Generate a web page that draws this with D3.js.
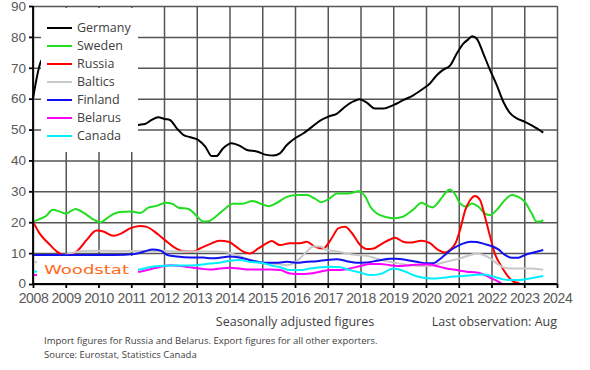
<!DOCTYPE html>
<html>
<head>
<meta charset="utf-8">
<script src="https://cdn.jsdelivr.net/npm/d3@7"></script>
<style>
    body { margin: 0; background: #fff; }
    svg { display: block; font-family: "Open Sans", sans-serif; }
    .grid line { stroke: #555; stroke-width: 1.5px; }
    .grid path { display: none; }
    .axis path, .axis line { stroke: #000; stroke-width: 1.8px; }
    .axis text { fill: #595959; }
    .line { fill: none; stroke-width: 2px; stroke-linejoin: round; }
</style>
</head>
<body>
<svg id="chart" width="590" height="370"></svg>
<script>
// Imports/exports of sawn softwood, by source, seasonally adjusted
var years = [2008, 2009, 2010, 2011, 2012, 2013, 2014, 2015, 2016, 2017, 2018, 2019, 2020, 2021, 2022, 2023, 2024];
var yTicks = [0, 10, 20, 30, 40, 50, 60, 70, 80, 90];
var names = ["Germany", "Sweden", "Russia", "Baltics", "Finland", "Belarus", "Canada"];
var colors = ["#000000", "#22dd22", "#ff0000", "#c8c8c8", "#1010f0", "#ff00ff", "#00f0ff"];

var germany = [[2008, 60], [2008.24, 72], [2008.5, 75], [2008.8, 70], [2009.1, 55], [2009.5, 46], [2010, 48], [2010.5, 50], [2011, 51],
    [2011.22, 51.5], [2011.42, 51.8], [2011.62, 53.1], [2011.82, 54], [2012.03, 53.4], [2012.18, 53.1], [2012.39, 50.4], [2012.59, 48.3],
    [2012.8, 47.5], [2013.05, 46.6], [2013.26, 44.5], [2013.46, 41.4], [2013.6, 41.4], [2013.8, 43.9], [2014.06, 45.6], [2014.32, 44.7],
    [2014.53, 43.4], [2014.83, 42.9], [2015.13, 41.8], [2015.34, 41.6], [2015.54, 42.3], [2015.75, 45], [2016, 47.2], [2016.26, 48.8],
    [2016.51, 50.8], [2016.77, 52.9], [2017.02, 54.2], [2017.27, 55.1], [2017.52, 57.3], [2017.78, 59.1], [2017.97, 59.8], [2018.19, 58.7],
    [2018.44, 56.8], [2018.69, 56.8], [2019, 57.9], [2019.3, 59.5], [2019.61, 61.1], [2019.92, 63.3], [2020.12, 64.9], [2020.33, 67.6],
    [2020.53, 69.4], [2020.74, 70.8], [2020.94, 74.6], [2021.14, 77.8], [2021.29, 79.2], [2021.41, 80.2], [2021.55, 79.4], [2021.75, 74.6],
    [2021.95, 69.4], [2022.16, 64.4], [2022.36, 59], [2022.56, 55.4], [2022.77, 53.6], [2023.02, 52.5], [2023.27, 51.1], [2023.58, 49]];

var sweden = [[2008, 20.2], [2008.2, 21], [2008.4, 22], [2008.6, 24], [2008.8, 23.5], [2009, 22.8], [2009.3, 24.3], [2009.55, 23],
    [2009.8, 21.2], [2010.05, 20], [2010.15, 20.4], [2010.35, 22], [2010.65, 23.3], [2011, 23.5], [2011.27, 23], [2011.52, 24.7],
    [2011.78, 25.3], [2012.05, 26.3], [2012.25, 26], [2012.45, 24.7], [2012.75, 24.3], [2013, 22], [2013.2, 20.2], [2013.35, 20.3],
    [2013.6, 22], [2013.9, 24.7], [2014.1, 26], [2014.4, 26], [2014.7, 26.9], [2014.95, 26], [2015.2, 25.2], [2015.45, 26.3],
    [2015.75, 28.2], [2016.05, 28.8], [2016.36, 28.8], [2016.6, 27.7], [2016.8, 26.5], [2017.07, 27.8], [2017.28, 29.3], [2017.6, 29.3],
    [2017.95, 30], [2018.15, 28.2], [2018.3, 25], [2018.5, 22.8], [2018.8, 21.6], [2019.05, 21.3], [2019.3, 21.8], [2019.6, 24],
    [2019.87, 26.3], [2020.02, 25.5], [2020.2, 24.8], [2020.43, 27.2], [2020.58, 29.3], [2020.73, 30.6], [2020.9, 28.8], [2021.04, 26.1],
    [2021.24, 25], [2021.4, 26.1], [2021.6, 25], [2021.8, 22.8], [2021.96, 22.3], [2022.16, 24], [2022.36, 26.6], [2022.62, 28.8],
    [2022.82, 28.2], [2023.02, 26.6], [2023.23, 22.8], [2023.38, 20.2], [2023.48, 20.2], [2023.58, 20.7]];

var russia = [[2008, 20.2], [2008.2, 16.4], [2008.47, 13.2], [2008.73, 10.5], [2008.93, 9.4], [2009.13, 9.4], [2009.38, 11],
    [2009.64, 14.3], [2009.94, 17.3], [2010.15, 17], [2010.45, 15.6], [2010.7, 16.4], [2010.96, 18], [2011.27, 18.8], [2011.47, 18.5],
    [2011.78, 16.4], [2012.03, 14.2], [2012.28, 12.1], [2012.58, 10.6], [2012.9, 10.5], [2013.1, 11.5], [2013.4, 12.9], [2013.7, 14],
    [2013.97, 13.7], [2014.2, 12.1], [2014.42, 10.5], [2014.62, 9.9], [2014.88, 11.5], [2015.14, 13.2], [2015.29, 13.9], [2015.54, 12.6],
    [2015.85, 13.2], [2016.15, 13.2], [2016.36, 13.7], [2016.6, 12.1], [2016.86, 11.5], [2017.12, 14.8], [2017.32, 18], [2017.53, 18.5],
    [2017.73, 16.6], [2017.99, 12.6], [2018.19, 11.3], [2018.4, 11.5], [2018.65, 13], [2018.9, 14.4], [2019.05, 15], [2019.3, 13.7],
    [2019.5, 13.4], [2019.87, 14], [2020.12, 13.2], [2020.38, 11], [2020.58, 10.2], [2020.73, 11], [2020.9, 13.2], [2021.04, 17.5],
    [2021.2, 24], [2021.35, 27.2], [2021.5, 28.5], [2021.65, 27.2], [2021.8, 21.8], [2021.96, 15.3], [2022.1, 9.9], [2022.31, 5.6],
    [2022.51, 2.4], [2022.67, 0.8], [2022.85, 0.3]];

var baltics = [[2008, 6.9], [2008.5, 8], [2009, 9.5], [2009.5, 10.7], [2010, 10.8], [2010.5, 10.7], [2011, 10.7], [2011.5, 10.6],
    [2012, 10.7], [2012.5, 10.5], [2013, 10.5], [2013.5, 10.5], [2013.9, 10.3], [2014.2, 9.4], [2014.5, 8.3], [2014.85, 7.2],
    [2015.14, 6.7], [2015.45, 6.5], [2015.75, 6.1], [2015.95, 6.7], [2016.15, 8.3], [2016.36, 10.5], [2016.56, 12.1], [2016.77, 12.1],
    [2016.97, 11], [2017.28, 10.5], [2017.58, 9.9], [2017.89, 9.4], [2018.19, 9.1], [2018.5, 8.2], [2018.9, 7.2], [2019.2, 6.6],
    [2019.5, 6.1], [2019.82, 5.8], [2020.12, 5.8], [2020.43, 6.7], [2020.73, 7.5], [2021.04, 8.3], [2021.35, 9.4], [2021.55, 9.9],
    [2021.75, 9.4], [2021.96, 8.3], [2022.16, 6.7], [2022.36, 5.4], [2022.57, 5], [2022.87, 5], [2023.17, 5], [2023.58, 4.6]];

var finland = [[2008, 9.4], [2008.5, 9.4], [2009, 9.3], [2009.5, 9.4], [2010, 9.4], [2010.5, 9.4], [2011.1, 9.7], [2011.4, 10.5],
    [2011.65, 11.2], [2011.9, 10.8], [2012.1, 9.4], [2012.4, 8.9], [2012.8, 8.6], [2013.2, 8.6], [2013.45, 8.3], [2013.7, 8.5],
    [2014, 8.9], [2014.3, 8.6], [2014.6, 7.8], [2014.95, 7], [2015.25, 6.9], [2015.5, 6.9], [2015.75, 7.2], [2016.05, 6.9],
    [2016.36, 7.2], [2016.67, 7.4], [2016.97, 7.8], [2017.28, 8], [2017.58, 7.4], [2017.89, 6.9], [2018.19, 7], [2018.5, 7.5],
    [2018.9, 8.2], [2019.1, 8.2], [2019.4, 7.8], [2019.72, 7.2], [2020.02, 6.7], [2020.2, 6.7], [2020.43, 8.1], [2020.63, 9.9],
    [2020.83, 11.5], [2021.09, 12.9], [2021.35, 13.7], [2021.55, 13.6], [2021.8, 12.9], [2022, 12.3], [2022.21, 11.2], [2022.41, 9.4],
    [2022.62, 8.5], [2022.82, 8.5], [2023.02, 9.4], [2023.28, 10.2], [2023.58, 11]];

var belarus = [[2008, 2.9], [2008.5, 3.2], [2009.5, 3.5], [2010.5, 3.8], [2011.25, 4], [2011.55, 4.7], [2011.9, 5.6], [2012.2, 6.1],
    [2012.5, 5.8], [2012.8, 5.4], [2013.1, 5], [2013.4, 4.7], [2013.7, 5], [2014, 5.3], [2014.3, 5], [2014.6, 4.7], [2015.25, 4.7],
    [2015.55, 4.5], [2015.85, 3.4], [2016.15, 3.2], [2016.46, 3.4], [2016.77, 4], [2017.07, 4.5], [2017.38, 4.5], [2017.68, 5],
    [2017.99, 5.8], [2018.3, 6.5], [2018.6, 6.5], [2018.9, 6.1], [2019.2, 5.8], [2019.5, 6.1], [2019.82, 6.3], [2020.12, 6.3],
    [2020.33, 5.8], [2020.63, 5], [2020.94, 4.5], [2021.24, 4], [2021.55, 3.7], [2021.8, 2.9], [2022, 1.8], [2022.21, 0.8], [2022.3, 0.2]];

var canada = [[2008, 4], [2008.5, 4.2], [2009.5, 4.4], [2010.5, 4.6], [2011.25, 4.7], [2011.55, 5.4], [2011.86, 5.8], [2012.2, 6],
    [2012.6, 6], [2013, 6.1], [2013.4, 6.6], [2013.7, 6.9], [2014, 7.5], [2014.3, 7.8], [2014.6, 7.2], [2014.95, 6.9], [2015.25, 6.1],
    [2015.55, 5.4], [2015.85, 4.5], [2016.15, 4.5], [2016.46, 5], [2016.77, 5.4], [2017.07, 5.6], [2017.38, 5.4], [2017.68, 4.5],
    [2017.99, 3.7], [2018.3, 2.9], [2018.6, 3.2], [2019, 5], [2019.3, 4.3], [2019.6, 2.9], [2019.92, 2], [2020.2, 1.8], [2020.5, 2],
    [2020.83, 2.4], [2021.14, 2.6], [2021.45, 2.9], [2021.75, 3.1], [2022.06, 2.4], [2022.36, 1.5], [2022.62, 1.3], [2022.87, 1.3],
    [2023.17, 1.8], [2023.58, 2.6]];

var series = [germany, sweden, russia, baltics, finland, belarus, canada];

var svg, x, y, line;

function init() {
    svg = d3.select("#chart");

    x = d3.scaleLinear()
        .domain([2008, 2024])
        .range([33, 557]);

    y = d3.scaleLinear()
        .domain([0, 90])
        .range([284, 6]);

    line = d3.line()
        .x(function(d) { return x(d[0]); })
        .y(function(d) { return y(d[1]); })
        .curve(d3.curveMonotoneX);

    draw();
}

function draw() {
    // grid
    svg.append("g")
        .attr("class", "grid")
        .attr("transform", "translate(0," + y(0) + ")")
        .call(d3.axisBottom(x).tickValues(years).tickSize(-(y(0) - y(90))).tickFormat(""));

    svg.append("g")
        .attr("class", "grid")
        .attr("transform", "translate(" + x(2008) + ",0)")
        .call(d3.axisLeft(y).tickValues(yTicks).tickSize(-(x(2024) - x(2008))).tickFormat(""));

    // series
    svg.selectAll(".line")
        .data(series)
        .enter().append("path")
        .attr("class", "line")
        .attr("d", line)
        .style("stroke", function(d, i) { return colors[i]; });

    // legend panel and logo panel cover the plot
    svg.append("rect")
        .attr("x", 41).attr("y", 8)
        .attr("width", 97).attr("height", 144)
        .attr("fill", "#fff");

    svg.append("rect")
        .attr("x", 37).attr("y", 256)
        .attr("width", 101).attr("height", 27)
        .attr("fill", "#fff");

    svg.append("text")
        .attr("x", 44).attr("y", 274)
        .attr("textLength", 85)
        .attr("lengthAdjust", "spacingAndGlyphs")
        .style("font-family", "DejaVu Sans")
        .style("font-size", "13px")
        .style("fill", "#ff6a1a")
        .text("Woodstat");

    // axes
    var yAxis = svg.append("g")
        .attr("class", "axis")
        .attr("transform", "translate(" + x(2008) + ",0)")
        .call(d3.axisLeft(y).tickValues(yTicks).tickSize(4).tickPadding(3));
    yAxis.selectAll("text").style("font-size", "13.5px");
    yAxis.select(".tick text").attr("dy", "0.28em");

    var xAxis = svg.append("g")
        .attr("class", "axis")
        .attr("transform", "translate(0," + y(0) + ")")
        .call(d3.axisBottom(x).tickValues(years).tickFormat(d3.format("d")).tickSize(4).tickPadding(5));
    xAxis.selectAll("text").style("font-size", "14px").style("letter-spacing", "-0.4px");
    xAxis.select(".domain").attr("d", "M" + x(2008) + ",0H" + x(2024));
    yAxis.select(".domain").attr("d", "M0," + y(0) + "V" + y(90));

    // legend
    var legend = svg.append("g").selectAll("g")
        .data(names)
        .enter().append("g")
        .attr("transform", function(d, i) { return "translate(0," + (28 + i * 18) + ")"; });

    legend.append("line")
        .attr("x1", 47).attr("x2", 72)
        .attr("stroke", function(d, i) { return colors[i]; })
        .attr("stroke-width", 2);

    legend.append("text")
        .attr("x", 77).attr("dy", "0.35em")
        .style("font-size", "12.5px")
        .style("fill", "#404040")
        .text(function(d) { return d; });

    // notes
    svg.append("text")
        .attr("x", 295).attr("y", 326)
        .attr("text-anchor", "middle")
        .style("font-size", "12.5px")
        .style("fill", "#404040")
        .text("Seasonally adjusted figures");

    svg.append("text")
        .attr("x", 557).attr("y", 326)
        .attr("text-anchor", "end")
        .style("font-size", "12.5px")
        .style("fill", "#404040")
        .text("Last observation: Aug");

    svg.append("text")
        .attr("x", 44).attr("y", 344)
        .style("font-size", "9.5px")
        .style("fill", "#404040")
        .text("Import figures for Russia and Belarus. Export figures for all other exporters.");

    svg.append("text")
        .attr("x", 44).attr("y", 358)
        .style("font-size", "9.5px")
        .style("fill", "#404040")
        .text("Source: Eurostat, Statistics Canada");
}

init();
</script>
</body>
</html>
